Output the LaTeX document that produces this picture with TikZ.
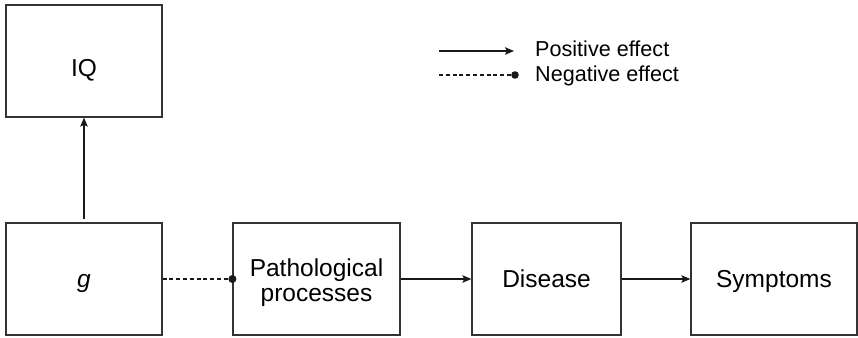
\documentclass[tikz,border=0pt]{standalone}
\usepackage{fontspec}
\setmainfont{Liberation Sans}
\usetikzlibrary{arrows.meta}
\begin{document}
\begin{tikzpicture}[x=1pt,y=-1pt,
  box/.style={draw=black!80, line width=1.2pt, rectangle, inner sep=0pt,
    align=center, text height=17.9pt, text depth=0pt,
    font=\fontsize{24.5}{25}\selectfont},
  posarrow/.style={draw=black!90, line width=1.1pt,
    -{Stealth[length=9pt,width=7.5pt,inset=1.8pt]}},
  negline/.style={draw=black!90, line width=1.1pt, dash pattern=on 4pt off 2.8pt},
  dotmark/.style={fill=black!90},
  legend/.style={anchor=base west, inner sep=0pt, font=\fontsize{21.6}{26}\selectfont}]
  \useasboundingbox (0,0) rectangle (858,337);

  % causal chain
  \node[box, minimum width=156pt, minimum height=112pt, text height=30pt] (iq) at (84,61) {IQ};
  \node[box, minimum width=156pt, minimum height=112pt] (g)   at (84,279)   {\itshape g};
  \node[box, minimum width=167pt, minimum height=112pt, text height=45.4pt] (pp) at (316.5,279) {Pathological\\processes};
  \node[box, minimum width=149pt, minimum height=112pt] (dis) at (546.5,279) {Disease};
  \node[box, minimum width=166pt, minimum height=112pt] (sym) at (774,279)  {Symptoms};

  \draw[posarrow, shorten <=3pt] (g.north) -- (iq.south);
  \draw[negline] (g.east) -- (pp.west);
  \fill[dotmark] (pp.west) circle (4pt);
  \draw[posarrow] (pp.east) -- (dis.west);
  \draw[posarrow] (dis.east) -- (sym.west);

  % key
  \coordinate (pa) at (439,51);
  \coordinate (pb) at (514,51);
  \coordinate (na) at (439,75);
  \coordinate (nb) at (515,75);
  \draw[posarrow] (pa) -- (pb);
  \draw[negline] (na) -- (nb);
  \fill[dotmark] (nb) circle (3.8pt);
  \node[legend] (lpos) at (535,56.5) {Positive effect};
  \node[legend] (lneg) at (535,81.5) {Negative effect};
\end{tikzpicture}
\end{document}
